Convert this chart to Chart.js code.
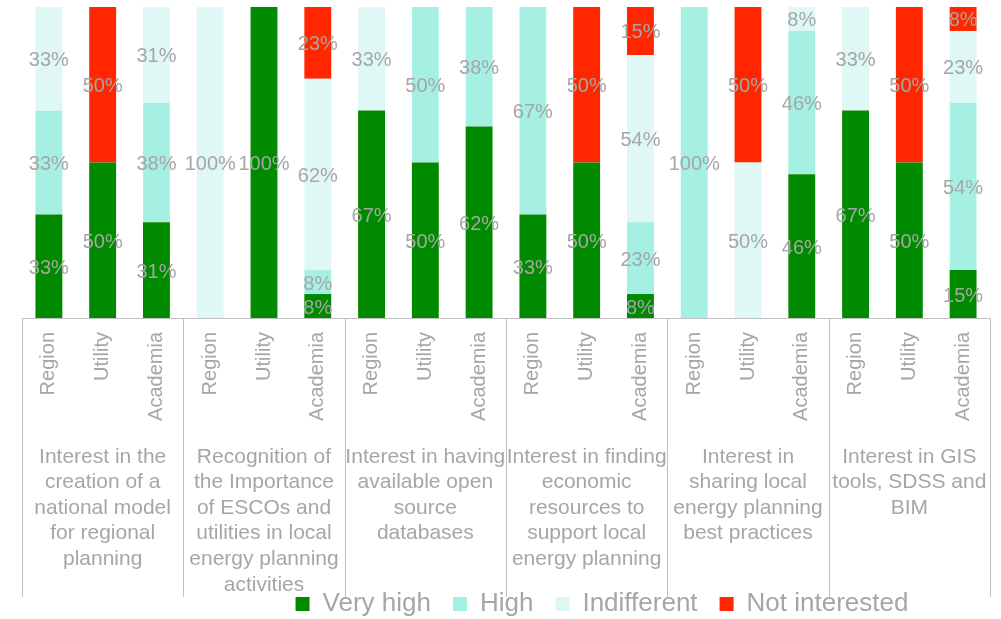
<!DOCTYPE html>
<html>
<head>
<meta charset="utf-8">
<script src="https://cdn.jsdelivr.net/npm/chart.js@4/dist/chart.umd.min.js"></script>
<style>
  html, body { margin: 0; padding: 0; background: #fff; }
  #wrap { width: 1001px; height: 619px; }
</style>
</head>
<body>
<div id="wrap"><canvas id="chart"></canvas></div>
<script>
const respondents = ['Region', 'Utility', 'Academia'];
const groups = [
    ['Interest in the', 'creation of a', 'national model', 'for regional', 'planning'],
    ['Recognition of', 'the Importance', 'of ESCOs and', 'utilities in local', 'energy planning', 'activities'],
    ['Interest in having', 'available open', 'source', 'databases'],
    ['Interest in finding', 'economic', 'resources to', 'support local', 'energy planning'],
    ['Interest in', 'sharing local', 'energy planning', 'best practices'],
    ['Interest in GIS', 'tools, SDSS and', 'BIM']
];
const categories = groups.flatMap(() => respondents);

// shares in %, one value per bar (Region, Utility, Academia for each question)
const veryHigh      = [33.3, 50, 30.8,   0, 100,  7.7,  66.7, 50, 61.6,  33.3, 50,  7.7,    0,  0, 46.2,  66.7, 50, 15.4];
const high          = [33.3,  0, 38.4,   0,   0,  7.7,     0, 50, 38.4,  66.7,  0, 23.1,  100,  0, 46.1,     0,  0, 53.8];
const indifferent   = [33.4,  0, 30.8, 100,   0, 61.5,  33.3,  0,    0,     0,  0, 53.8,    0, 50,  7.7,  33.3,  0, 23.1];
const notInterested = [   0, 50,    0,   0,   0, 23.1,     0,  0,    0,     0, 50, 15.4,    0, 50,    0,     0, 50,  7.7];

const grey = '#a6a6a6';
const lineGrey = '#c0c0c0';
const fontFamily = '"Liberation Sans", Arial, sans-serif';

const barLabels = {
    id: 'barLabels',
    afterDatasetsDraw(chart) {
        const ctx = chart.ctx;
        ctx.save();
        ctx.font = '20px ' + fontFamily;
        ctx.fillStyle = grey;
        ctx.textAlign = 'center';
        ctx.textBaseline = 'middle';
        chart.data.datasets.forEach((ds, i) => {
            chart.getDatasetMeta(i).data.forEach((bar, j) => {
                const v = ds.data[j];
                if (!v) return;
                ctx.fillText(Math.round(v) + '%', bar.x, (bar.y + bar.base) / 2 + 2);
            });
        });
        ctx.restore();
    }
};

const groupDividers = {
    id: 'groupDividers',
    afterDraw(chart) {
        const ctx = chart.ctx;
        const x = chart.scales.x;
        ctx.save();
        ctx.strokeStyle = lineGrey;
        ctx.lineWidth = 1;
        for (let k = 0; k <= groups.length; k++) {
            const px = Math.round(x.getPixelForValue(k * 3 - 0.5)) + 0.5;
            ctx.beginPath();
            ctx.moveTo(px, chart.chartArea.bottom);
            ctx.lineTo(px, 597);
            ctx.stroke();
        }
        ctx.restore();
    }
};

// the legend sits right of centre and partly over the axis area in the original
const legendShift = {
    id: 'legendShift',
    afterLayout(chart) {
        const lg = chart.legend;
        lg.left += 96;
        lg.right += 96;
        lg.top -= 28;
    }
};

function noSidePadding(s) {
    s.paddingLeft = 0;
    s.paddingRight = 0;
}

function dataset(label, data, color) {
    return {
        label: label,
        data: data,
        backgroundColor: color,
        borderWidth: 0,
        barPercentage: 0.5,
        categoryPercentage: 1.0
    };
}

new Chart(document.getElementById('chart'), {
    type: 'bar',
    data: {
        labels: categories,
        datasets: [
            dataset('Very high', veryHigh, '#008a00'),
            dataset('High', high, '#a6efe3'),
            dataset('Indifferent', indifferent, '#dff8f5'),
            dataset('Not interested', notInterested, '#ff2600')
        ]
    },
    options: {
        responsive: true,
        maintainAspectRatio: false,
        animation: false,
        layout: { padding: { left: 22, right: 11, top: 7, bottom: 0 } },
        scales: {
            x: {
                stacked: true,
                weight: 0,
                grid: { display: false, drawTicks: false },
                border: { color: lineGrey },
                ticks: {
                    autoSkip: false,
                    minRotation: 90,
                    maxRotation: 90,
                    padding: 14,
                    color: grey,
                    font: { family: fontFamily, size: 20 }
                },
                afterFit: s => { s.height = 106; noSidePadding(s); }
            },
            x2: {
                type: 'category',
                labels: groups,
                position: 'bottom',
                weight: 1,
                offset: true,
                grid: { display: false, drawTicks: false },
                border: { display: false },
                ticks: {
                    autoSkip: false,
                    minRotation: 0,
                    maxRotation: 0,
                    padding: 20,
                    color: grey,
                    font: { family: fontFamily, size: 21, lineHeight: 1.22 }
                },
                afterFit: s => { s.height = 173; noSidePadding(s); }
            },
            y: { stacked: true, display: false, min: 0, max: 100 }
        },
        plugins: {
            legend: {
                position: 'bottom',
                maxHeight: 22,
                labels: {
                    boxWidth: 14,
                    boxHeight: 14,
                    padding: 22,
                    color: grey,
                    font: { family: fontFamily, size: 26 }
                }
            },
            tooltip: { enabled: false }
        }
    },
    plugins: [barLabels, groupDividers, legendShift]
});
</script>
</body>
</html>
